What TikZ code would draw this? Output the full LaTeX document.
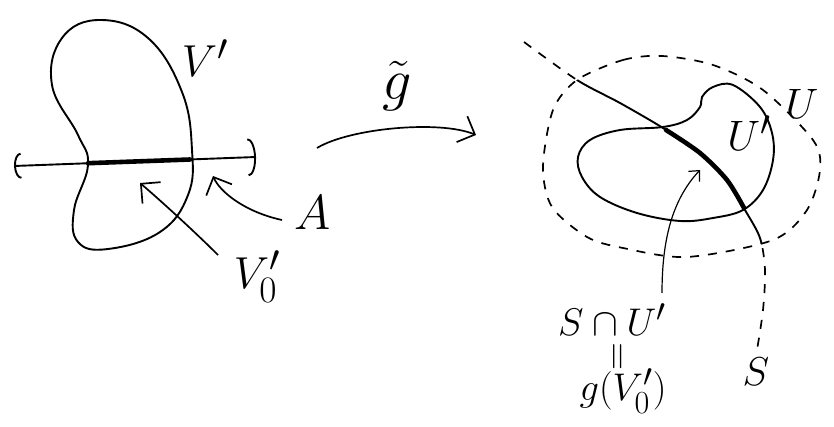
\documentclass[tikz,border=0pt]{standalone}
\usepackage{amsmath, amssymb}
\usetikzlibrary{arrows.meta, positioning}

% shapes reused for drawing and clipping
\def\Upath{plot[smooth cycle] coordinates {(577,80) (623,60) (662,56) (713,65) (763,90) (813,140) (820,170) (807,210) (773,240) (687,257) (623,248) (587,237) (552,207) (543,167) (553,110)}}
\def\Spath{plot[smooth] coordinates {(524,42) (577,80) (620,103) (663,128) (700,153) (727,180) (745,210) (760,238) (765,270) (763,310) (757,350)}}

\begin{document}
\begin{tikzpicture}[
    x=1pt, y=-1pt,
    outline/.style={line width=1.9pt, line join=round},
    dashline/.style={line width=1.7pt, dash pattern=on 9pt off 9pt},
    heavy/.style={line width=4.6pt, line cap=round},
    pointer/.style={line width=1.7pt, -{Straight Barb[length=14pt, width=28pt, line width=1.7pt]}},
    smallpointer/.style={line width=1.2pt, -{Straight Barb[length=8pt, width=15pt, line width=1.2pt]}},
    tag/.style={font=\Huge, scale=1.8, inner sep=0pt},
    smalltag/.style={font=\Huge, scale=1.55, inner sep=0pt}
]
    \useasboundingbox (0,0) rectangle (834,427);

    % Left side
    \draw[outline] plot[smooth cycle, tension=0.7] coordinates {(100,20) (62,38) (52,85) (78,135) (88,165) (74,210) (78,242) (108,249) (160,232) (188,195) (192,150) (182,92) (148,38)};
    \coordinate (lineL) at (14,166);
    \coordinate (lineR) at (256,157);
    \draw[outline, {Arc Barb[length=7pt, width=26pt, line width=1.9pt]}-{Arc Barb[length=8pt, width=38pt, line width=1.9pt]}] (lineL) -- (lineR);
    \coordinate (segL) at (88,163.2);
    \coordinate (segR) at (190,159.5);
    \draw[heavy] (segL) -- (segR);

    % Right side
    \draw[dashline] \Spath;
    \begin{scope}
        \clip \Upath;
        \fill[white] \Upath;
        \draw[outline] \Spath;
    \end{scope}
    \draw[dashline] \Upath;
    \draw[outline] plot[smooth cycle, tension=0.6] coordinates {(663,127) (687,120) (700,107) (702,97) (713,87) (733,85) (760,107) (772,133) (773,160) (763,190) (743,210) (713,218) (680,221) (637,213) (600,197) (582,177) (578,157) (590,140) (620,130)};
    \draw[heavy] plot[smooth] coordinates {(666,130) (700,153) (727,180) (744,208)};

    % Nodes
    \node[tag] (Vp) at (205,58) {$V'$};
    \node[tag, scale=1.1] (A) at (313,213) {$A$};
    \node[tag] (Vz) at (257,277) {$V'_0$};
    \node[tag, scale=1.3] (gt) at (397,86) {$\tilde{g}$};
    \node[tag, scale=0.95] (Up) at (749,133) {$U'$};
    \node[tag, scale=0.95] (U) at (802,104) {$U$};
    \node[tag, scale=0.9] (S) at (756,372) {$S$};
    \node[smalltag] (SU) at (612,320) {$S\cap U'$};
    \node[smalltag, rotate=90] (eq) at (620,357) {$=$};
    \node[smalltag] (gV) at (623,391) {$g(V'_0)$};

    % Arrows
    \coordinate (tipVz) at (140,183);
    \coordinate (tipA) at (213,176);
    \coordinate (mapL) at (317,148);
    \coordinate (mapR) at (476,135);
    \coordinate (tipSU) at (700,170);
    \draw[pointer] (218,255) .. controls (195,232) and (160,200) .. (tipVz);
    \draw[pointer] (282,220) .. controls (245,212) and (220,192) .. (tipA);
    \draw[pointer] (mapL) .. controls (350,128) and (440,120) .. (mapR);
    \draw[smallpointer] (662,293) .. controls (662,240) and (672,200) .. (tipSU);
\end{tikzpicture}
\end{document}
